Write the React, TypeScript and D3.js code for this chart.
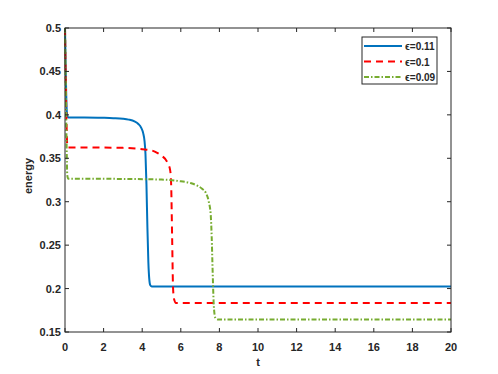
import React, { useEffect, useRef } from 'react';
import * as d3 from 'd3';

// time samples and energy values
const tBlue = [0, 0.04, 0.08, 0.12, 0.17, 1, 2, 2.5, 3, 3.3, 3.6, 3.8, 3.95, 4.05, 4.12, 4.17, 4.22, 4.27, 4.32, 4.37, 4.42, 4.5, 20];
const eBlue = [0.5, 0.45, 0.41, 0.399, 0.397, 0.397, 0.3966, 0.3962, 0.3955, 0.3945, 0.3925, 0.3895, 0.385, 0.379, 0.37, 0.355, 0.32, 0.27, 0.23, 0.21, 0.2038, 0.2025, 0.2025];

const tRed = [0, 0.04, 0.08, 0.12, 0.17, 1, 2, 3, 4, 4.5, 4.8, 5.0, 5.2, 5.35, 5.45, 5.5, 5.55, 5.6, 5.65, 5.75, 20];
const eRed = [0.5, 0.44, 0.39, 0.364, 0.3625, 0.3625, 0.3623, 0.362, 0.3605, 0.359, 0.356, 0.353, 0.349, 0.343, 0.336, 0.32, 0.26, 0.2, 0.188, 0.1835, 0.1835];

const tGreen = [0, 0.04, 0.08, 0.12, 0.17, 1, 3, 5, 6, 6.5, 6.9, 7.1, 7.3, 7.45, 7.55, 7.6, 7.65, 7.7, 7.75, 7.8, 7.9, 20];
const eGreen = [0.5, 0.43, 0.37, 0.33, 0.3265, 0.3265, 0.3262, 0.3255, 0.3235, 0.3215, 0.318, 0.315, 0.31, 0.3, 0.285, 0.26, 0.22, 0.185, 0.17, 0.166, 0.1645, 0.1645];

const seriesNames = ['\u03f5=0.11', '\u03f5=0.1', '\u03f5=0.09'];
const xTicks = [0, 2, 4, 6, 8, 10, 12, 14, 16, 18, 20];
const yTicks = [0.15, 0.2, 0.25, 0.3, 0.35, 0.4, 0.45, 0.5];

export default function App() {
  const ref = useRef<SVGSVGElement>(null);

  useEffect(() => {
    const svg = d3.select(ref.current);
    svg.selectAll('*').remove();

    const left = 65, right = 451, top = 28, bottom = 332;
    const axisColor = '#262626';
    const font = '"Liberation Sans", Arial, Helvetica, sans-serif';

    const x = d3.scaleLinear().domain([0, 20]).range([left, right]);
    const y = d3.scaleLinear().domain([0.15, 0.5]).range([bottom, top]);

    const series = [
      { t: tBlue, e: eBlue, color: '#0072BD', dash: null },
      { t: tRed, e: eRed, color: '#FF0000', dash: '7,5' },
      { t: tGreen, e: eGreen, color: '#77AC30', dash: '5,2,1.5,2' },
    ];

    svg.append('rect').attr('width', 498).attr('height', 374).attr('fill', '#fff');

    const line = d3.line<[number, number]>()
      .x(d => x(d[0]))
      .y(d => y(d[1]))
      .curve(d3.curveMonotoneX);

    // lines
    series.forEach(s => {
      const pts: [number, number][] = s.t.map((t, i) => [t, s.e[i]]);
      svg.append('path')
        .attr('d', line(pts))
        .attr('fill', 'none')
        .attr('stroke', s.color)
        .attr('stroke-width', 2)
        .attr('stroke-dasharray', s.dash);
    });

    // axes box
    svg.append('rect')
      .attr('x', left).attr('y', top)
      .attr('width', right - left).attr('height', bottom - top)
      .attr('fill', 'none').attr('stroke', axisColor).attr('stroke-width', 1);

    const tickLen = 4;
    xTicks.forEach(v => {
      svg.append('line').attr('x1', x(v)).attr('x2', x(v)).attr('y1', bottom).attr('y2', bottom - tickLen).attr('stroke', axisColor);
      svg.append('line').attr('x1', x(v)).attr('x2', x(v)).attr('y1', top).attr('y2', top + tickLen).attr('stroke', axisColor);
      svg.append('text').attr('x', x(v)).attr('y', 351)
        .attr('text-anchor', 'middle').attr('font-family', font).attr('font-size', 11).attr('font-weight', 'bold')
        .attr('fill', axisColor).text(String(v));
    });
    yTicks.forEach(v => {
      svg.append('line').attr('x1', left).attr('x2', left + tickLen).attr('y1', y(v)).attr('y2', y(v)).attr('stroke', axisColor);
      svg.append('line').attr('x1', right).attr('x2', right - tickLen).attr('y1', y(v)).attr('y2', y(v)).attr('stroke', axisColor);
      svg.append('text').attr('x', 61).attr('y', y(v) + 4)
        .attr('text-anchor', 'end').attr('font-family', font).attr('font-size', 11).attr('font-weight', 'bold')
        .attr('fill', axisColor).text(String(+v.toFixed(2)));
    });

    // axis labels
    svg.append('text').attr('x', (left + right) / 2).attr('y', 366)
      .attr('text-anchor', 'middle').attr('font-family', font).attr('font-size', 11).attr('font-weight', 'bold')
      .attr('fill', axisColor).text('t');
    svg.append('text').attr('transform', `translate(32,${(top + bottom) / 2 - 4}) rotate(-90)`)
      .attr('text-anchor', 'middle').attr('font-family', font).attr('font-size', 11).attr('font-weight', 'bold')
      .attr('fill', axisColor).text('energy');

    // legend
    const lg = svg.append('g');
    lg.append('rect').attr('x', 362).attr('y', 37).attr('width', 75).attr('height', 47)
      .attr('fill', '#fff').attr('stroke', axisColor).attr('stroke-width', 1);
    series.forEach((s, i) => {
      const ly = 46 + i * 15.5;
      lg.append('line').attr('x1', 364).attr('x2', 402).attr('y1', ly).attr('y2', ly)
        .attr('stroke', s.color).attr('stroke-width', 2).attr('stroke-dasharray', s.dash);
      lg.append('text').attr('x', 405).attr('y', ly + 4)
        .attr('font-family', font).attr('font-size', 10).attr('font-weight', 'bold')
        .attr('fill', axisColor).text(seriesNames[i]);
    });
  }, []);

  return (
    <svg ref={ref} width={498} height={374} style={{ position: 'absolute', left: 0, top: 0 }} />
  );
}
